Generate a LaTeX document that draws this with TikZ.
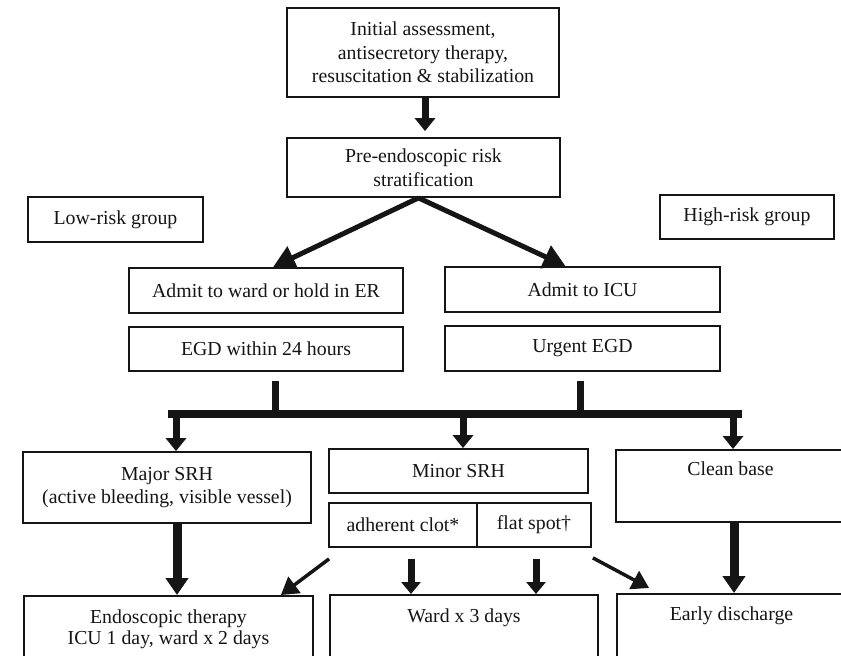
\documentclass[tikz,border=0pt]{standalone}
\usepackage{fontspec}
\setmainfont{Liberation Serif}
\usetikzlibrary{arrows.meta,calc}
\definecolor{ink}{HTML}{151515}
\newcommand\fs{\fontsize{19.8}{23.5}\selectfont}
\newcommand\fsb{\fontsize{19.8}{21}\selectfont}
\tikzset{
  box/.style={draw=ink, line width=1.8pt, inner sep=0pt, font=\fs, text=ink, align=center},
  tbox/.style={draw=ink, line width=1.8pt, inner sep=0pt, font=\fs, text=ink},
  arrA/.style={draw=ink, line width=7pt, -{Triangle[width=20pt,length=13pt]}},
  arrB/.style={draw=ink, line width=5pt, -{Triangle[width=24pt,length=22pt]}},
  arrC/.style={draw=ink, line width=9pt, -{Triangle[width=22pt,length=17pt]}},
  arrD/.style={draw=ink, line width=7pt, -{Triangle[width=19pt,length=12pt]}},
  arrE/.style={draw=ink, line width=3.5pt, -{Triangle[width=20pt,length=17pt]}},
  stem/.style={draw=ink, line width=7pt},
  barline/.style={draw=ink, line width=8pt},
}
\begin{document}
\begin{tikzpicture}[x=1pt,y=-1pt]
\useasboundingbox (0,0) rectangle (841,656);
\clip (0,0) rectangle (841,656);
\fill[white] (0,0) rectangle (841,656);

\node[box, minimum width=272pt, minimum height=89pt] (init) at (423,52.5)
  {Initial assessment,\\antisecretory therapy,\\resuscitation \& stabilization};
\node[box, minimum width=273pt, minimum height=59pt] (pre) at (423.5,167.5)
  {Pre-endoscopic risk\\stratification};
\node[box, minimum width=175pt, minimum height=45pt] (low) at (115.5,219.5) {Low-risk group};
\node[box, minimum width=174pt, minimum height=44pt] (high) at (747,217) {High-risk group};
\node[box, minimum width=274pt, minimum height=45pt] (ward) at (266,290.5) {Admit to ward or hold in ER};
\node[box, minimum width=275pt, minimum height=45pt] (icu) at (582.5,289.5) {Admit to ICU};
\node[box, minimum width=274pt, minimum height=44pt] (egd) at (266,349) {EGD within 24 hours};
\node[box, minimum width=275pt, minimum height=45pt] (urg) at (582.5,348.5) {Urgent EGD};
\node[box, minimum width=288pt, minimum height=71pt] (major) at (167,487.5)
  {Major SRH\\(active bleeding, visible vessel)};
\node[box, minimum width=259pt, minimum height=44pt] (minor) at (458.5,471) {Minor SRH};
\node[box, minimum width=148pt, minimum height=44pt] (clot) at (403,525) {adherent clot*};
\node[box, minimum width=114pt, minimum height=44pt] (flat) at (534,525) {flat spot†};
\node[tbox, anchor=north, minimum width=229pt, text height=26pt, text depth=46pt] (clean) at (730.5,449) {Clean base};
\node[tbox, anchor=north, minimum width=289pt, text height=28pt, text depth=90pt] (endo) at (168.5,595)
  {\fsb\begin{tabular}[t]{@{}c@{}}Endoscopic therapy\\ICU 1 day, ward x 2 days\end{tabular}};
\node[tbox, anchor=north, minimum width=268pt, text height=28pt, text depth=90pt] (w3) at (464,594) {Ward x 3 days};
\node[tbox, anchor=north, minimum width=229pt, text height=27pt, text depth=90pt] (early) at (731.5,593) {Early discharge};

% connectors
\draw[arrA] ($(init.south)+(2,0)$) -- ($(pre.north)+(1.5,-6)$);
\draw[arrB] ($(pre.south)+(-5,0)$) -- ($(ward.north)+(7,0)$);
\draw[arrB] ($(pre.south)+(-5,0)$) -- ($(icu.north)+(-17,0)$);

\coordinate (bl) at (168,414);
\coordinate (br) at (742,414);
\draw[barline] (bl) -- (br);
\draw[stem] ($(egd.south)+(9,9)$) -- ($(egd.south)+(9,43)$);
\draw[stem] ($(urg.south)+(-2.5,9)$) -- ($(urg.south)+(-2.5,43)$);

\draw[arrA] ($(major.north)+(9,-37)$) -- ($(major.north)+(9,0)$);
\draw[arrA] ($(minor.north)+(4.5,-35)$) -- ($(minor.north)+(4.5,0)$);
\draw[arrA] ($(clean.north)+(2.5,-35)$) -- ($(clean.north)+(2.5,0)$);

\draw[arrC] ($(major.south)+(10,0)$) -- ($(endo.north)+(8.5,0)$);
\draw[arrC] ($(clean.south)+(3.5,0)$) -- ($(early.north)+(2.5,0)$);

\draw[arrD] ($(clot.south)+(8,11)$) -- ($(w3.north)+(-53,0)$);
\draw[arrD] ($(flat.south)+(2,11)$) -- ($(w3.north)+(72,0)$);
\draw[arrE] ($(clot.south west)+(1,11)$) -- ($(endo.north east)+(-33,0)$);
\draw[arrE] ($(flat.south east)+(1,10)$) -- ($(early.north west)+(33,-5)$);
\end{tikzpicture}
\end{document}
